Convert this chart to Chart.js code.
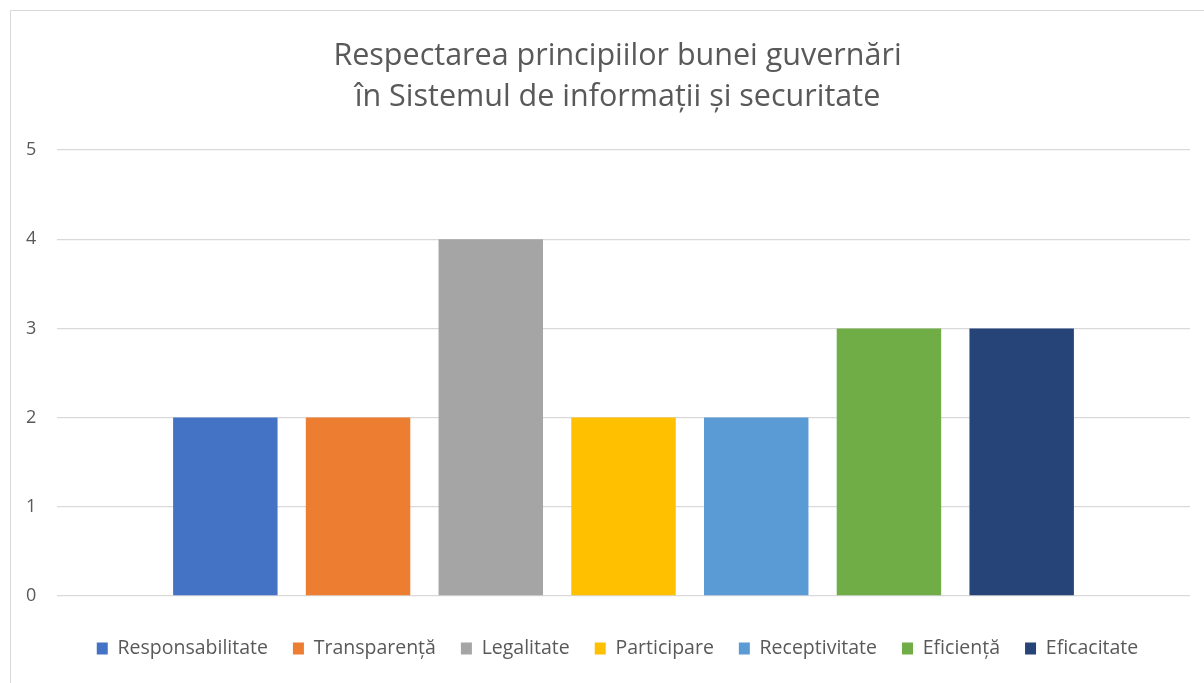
<!DOCTYPE html>
<html>
<head>
<meta charset="utf-8">
<script src="https://cdn.jsdelivr.net/npm/chart.js@4"></script>
<style>
  html, body { margin: 0; padding: 0; background: #ffffff; }
  #wrap { position: relative; width: 1204px; height: 683px; overflow: hidden; }
  #frame { position: absolute; left: 10px; top: 10px; width: 1220px; height: 700px; border: 1px solid #d9d9d9; box-sizing: border-box; pointer-events: none; }
  canvas { position: absolute; left: 0; top: 0; }
</style>
</head>
<body>
<div id="wrap">
  <div id="frame"></div>
  <canvas id="c" width="1204" height="683"></canvas>
</div>
<script>
const titleLines = ['Respectarea principiilor bunei guvernări', 'în Sistemul de informații și securitate'];
const categories = [''];
const principles = ['Responsabilitate', 'Transparență', 'Legalitate', 'Participare', 'Receptivitate', 'Eficiență', 'Eficacitate'];
const scores = [2, 2, 4, 2, 2, 3, 3];
const barColors = ['#4472C4', '#ED7D31', '#A5A5A5', '#FFC000', '#5B9BD5', '#70AD47', '#264478'];
const yTickLabels = ['0', '1', '2', '3', '4', '5'];

const FONT = "'Open Sans', 'Noto Sans', sans-serif";
const TEXT = '#595959';
const LEGEND_PAD = 25;

const datasets = principles.map((name, i) => ({
  label: name,
  data: [scores[i]],
  backgroundColor: barColors[i],
  borderWidth: 0,
  categoryPercentage: 0.82,
  barPercentage: 0.787
}));

new Chart(document.getElementById('c'), {
  type: 'bar',
  data: { labels: categories, datasets },
  options: {
    responsive: false,
    animation: false,
    events: [],
    layout: { padding: { left: 45, right: 14, top: 0, bottom: 14.85 } },
    plugins: {
      title: {
        display: true,
        text: titleLines,
        color: TEXT,
        font: { family: FONT, size: 30.5, weight: 'normal', lineHeight: 41 / 30.5 },
        padding: { top: 35.5, bottom: 32.5 }
      },
      legend: {
        position: 'bottom',
        labels: {
          color: TEXT,
          font: { family: FONT, size: 19.5 },
          boxWidth: 11,
          boxHeight: 12,
          padding: LEGEND_PAD
        }
      },
      tooltip: { enabled: false }
    },
    scales: {
      x: {
        grid: { display: false, drawTicks: false },
        border: { display: false },
        ticks: { display: false },
        afterFit(scale) { scale.height = 42.65 - LEGEND_PAD; }
      },
      y: {
        min: 0,
        max: 5,
        grid: { color: '#d9d9d9', lineWidth: 1.3, drawTicks: false },
        border: { display: false },
        ticks: {
          stepSize: 1,
          color: TEXT,
          font: { family: FONT, size: 18 },
          mirror: true,
          padding: -31,
          callback: (v, i) => yTickLabels[i]
        },
        afterFit(scale) { scale.width = 12; }
      }
    }
  }
});
</script>
</body>
</html>
